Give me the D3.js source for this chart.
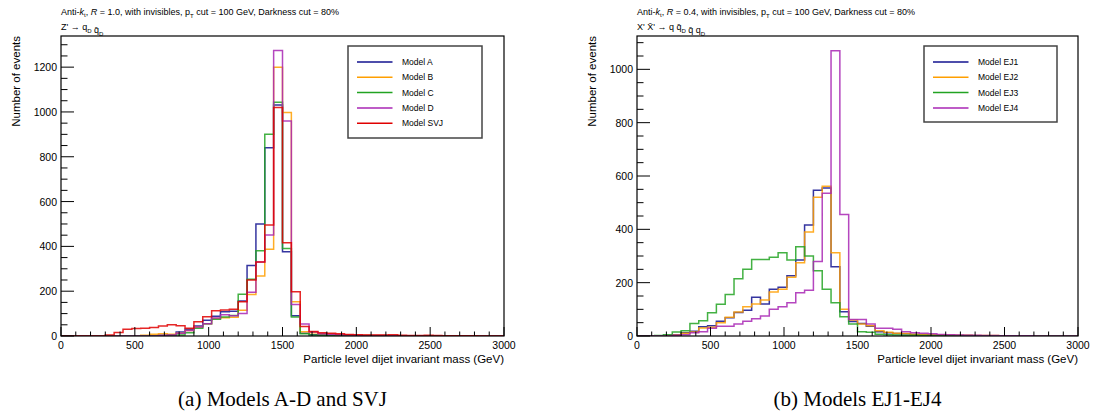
<!DOCTYPE html>
<meta charset="utf-8">
<style>
body { margin: 0; background: #fff; }
text { font-family: "Liberation Sans", Arial, sans-serif; fill: #000; }
.caption { font-family: "Liberation Serif", "DejaVu Serif", serif; }
</style>
<svg width="1094" height="414"></svg>
<script src="https://d3js.org/d3.v7.min.js"></script>
<script>

// histogram binning (GeV)
var massMin = 0, massMax = 3000, binWidth = 60;
var xTicks = [0, 500, 1000, 1500, 2000, 2500, 3000];
var yTicksA = [0, 200, 400, 600, 800, 1000, 1200];
var yTicksB = [0, 200, 400, 600, 800, 1000];

// panel (a): counts per 60 GeV bin
var modelsA = ["Model A", "Model B", "Model C", "Model D", "Model SVJ"];
var colorsA = ["#12128f", "#ff9f00", "#22a322", "#a826b4", "#e00000"];
var countsModelA = [0,0,0,0,0,0,0,0,0,0, 0,3,5,18,30,45,70,88,108,111, 156,315,500,840,1031,376,90,12,6,4, 3,2,2,1,1,1,1,0,1,0, 0,0,0,0,0,0,0,0,0,0];
var countsModelB = [0,0,0,0,0,0,0,0,0,3, 8,10,8,12,25,40,55,78,82,84, 115,185,268,387,1200,997,153,19,15,10, 8,6,4,3,3,2,2,1,1,1, 1,0,0,0,0,0,0,0,0,0];
var countsModelC = [0,0,0,0,0,0,0,0,0,0, 0,0,2,5,15,35,55,75,85,92, 186,253,380,900,1043,391,85,10,5,3, 2,2,1,1,1,0,0,0,0,0, 0,0,0,0,0,0,0,0,0,0];
var countsModelD = [0,0,0,0,0,0,0,0,0,0, 0,2,5,12,25,40,55,80,95,90, 100,195,330,451,1274,960,141,54,18,10, 8,6,4,3,2,2,2,1,1,1, 1,0,0,0,0,0,0,0,0,0];
var countsModelSVJ = [0,0,0,0,0,5,16,30,33,35, 38,45,50,46,35,64,86,113,116,119, 153,250,330,495,1020,416,198,42,20,15, 12,10,7,6,5,5,4,6,3,2, 2,3,2,1,1,1,1,0,0,0];

// panel (b)
var modelsB = ["Model EJ1", "Model EJ2", "Model EJ3", "Model EJ4"];
var colorsB = ["#12128f", "#ff9f00", "#22a322", "#a826b4"];
var countsEJ1 = [0,0,0,2,5,12,18,35,38,55, 68,88,97,145,120,175,183,226,285,416, 547,555,260,91,54,47,37,16,12,9, 8,6,5,4,3,2,2,2,1,1, 1,1,1,0,0,0,0,0,0,0];
var countsEJ2 = [0,0,0,1,4,10,15,30,33,50, 70,90,110,120,135,165,175,220,275,390, 520,562,312,100,60,45,38,20,14,10, 9,7,6,5,5,4,3,3,2,2, 2,1,1,1,1,0,0,0,0,0];
var countsEJ3 = [0,0,2,5,15,20,47,57,87,119, 156,215,250,287,287,295,312,285,335,300, 245,175,125,72,45,16,14,7,5,4, 3,3,2,2,1,1,1,1,0,0, 0,0,0,0,0,0,0,0,0,0];
var countsEJ4 = [0,0,0,0,3,5,12,16,29,37, 37,45,55,65,75,100,110,125,162,172, 279,535,1070,456,62,62,45,29,29,25, 16,12,10,8,6,5,4,3,3,2, 2,1,1,1,1,0,0,0,0,0];

var svg = d3.select("svg");

function drawPanel(p) {
  var g = svg.append("g");
  var x = d3.scaleLinear().domain([massMin, massMax]).range([p.left, p.right]);
  var y = d3.scaleLinear().domain([0, p.yMax]).range([p.bottom, p.top]);

  var clipId = "clip" + p.id;
  g.append("clipPath").attr("id", clipId)
    .append("rect")
      .attr("x", p.left).attr("y", p.top)
      .attr("width", p.right - p.left).attr("height", p.bottom - p.top);

  // step outlines, ROOT "HIST" style
  var hist = g.append("g").attr("clip-path", "url(#" + clipId + ")");
  p.series.forEach(function(counts, k) {
    var pts = [[x(massMin), y(0)]];
    counts.forEach(function(v, i) {
      var lo = massMin + i * binWidth;
      pts.push([x(lo), y(v)], [x(lo + binWidth), y(v)]);
    });
    pts.push([x(massMax), y(0)]);
    hist.append("path")
      .attr("d", d3.line()(pts))
      .attr("fill", "none")
      .attr("stroke", p.colors[k])
      .attr("stroke-width", 1.5)
      .attr("stroke-opacity", 0.85);
  });

  // frame
  g.append("rect")
    .attr("x", p.left).attr("y", p.top)
    .attr("width", p.right - p.left).attr("height", p.bottom - p.top)
    .attr("fill", "none").attr("stroke", "#000").attr("stroke-width", 1.2);

  // x ticks point inwards
  var xMinor = d3.range(massMin, massMax + 1, 100);
  g.append("g").selectAll("line").data(xMinor).enter().append("line")
    .attr("x1", x).attr("x2", x)
    .attr("y1", p.bottom)
    .attr("y2", function(d) { return p.bottom - (d % 500 === 0 ? 9 : 4.5); })
    .attr("stroke", "#000").attr("stroke-width", 1);
  g.append("g").selectAll("text").data(xTicks).enter().append("text")
    .attr("x", x).attr("y", p.bottom + 13)
    .attr("text-anchor", "middle").attr("font-size", 10.5)
    .text(function(d) { return d; });

  var yMinor = d3.range(0, p.yMax, 50);
  g.append("g").selectAll("line").data(yMinor).enter().append("line")
    .attr("y1", y).attr("y2", y)
    .attr("x1", p.left)
    .attr("x2", function(d) { return p.left + (d % 200 === 0 ? 13 : 6.5); })
    .attr("stroke", "#000").attr("stroke-width", 1);
  g.append("g").selectAll("text").data(p.yTicks).enter().append("text")
    .attr("x", p.left - 4).attr("y", function(d) { return y(d) + 4; })
    .attr("text-anchor", "end").attr("font-size", 10.5)
    .text(function(d) { return d; });

  // axis titles
  g.append("text")
    .attr("x", p.right).attr("y", p.bottom + 27)
    .attr("text-anchor", "end").attr("font-size", 11.5)
    .text("Particle level dijet invariant mass (GeV)");
  g.append("text")
    .attr("transform", "translate(" + (p.left - 41) + "," + p.top + ") rotate(-90)")
    .attr("text-anchor", "end").attr("font-size", 11.5)
    .text("Number of events");

  // header lines
  var h1 = g.append("text").attr("x", p.left).attr("y", 15).attr("font-size", 9);
  h1.append("tspan").text("Anti-");
  h1.append("tspan").attr("font-style", "italic").text("k");
  h1.append("tspan").attr("font-size", 6).attr("dy", 2).text("t");
  h1.append("tspan").attr("dy", -2).text(", ");
  h1.append("tspan").attr("font-style", "italic").text("R");
  h1.append("tspan").text(" = " + p.radius + ", with invisibles, p");
  h1.append("tspan").attr("font-size", 6).attr("dy", 3).text("T");
  h1.append("tspan").attr("dy", -3).text(" cut = 100 GeV, Darkness cut = 80%");

  var h2 = g.append("text").attr("x", p.left).attr("y", 30).attr("font-size", 9);
  p.process.forEach(function(part) {
    h2.append("tspan").text(part[0]);
    if (part[1]) {
      h2.append("tspan").attr("font-size", 6).attr("dy", 3).text(part[1]);
      h2.append("tspan").attr("dy", -3).text("");
    }
  });

  // legend
  var lg = g.append("g");
  lg.append("rect")
    .attr("x", p.legend.x).attr("y", p.legend.y)
    .attr("width", p.legend.w).attr("height", p.legend.h)
    .attr("fill", "#fff").attr("stroke", "#444").attr("stroke-width", 1.5);
  var rows = lg.selectAll("g.row").data(p.names).enter().append("g")
    .attr("transform", function(d, i) {
      return "translate(" + p.legend.x + "," + (p.legend.y + 16 + i * 15.3) + ")";
    });
  rows.append("line")
    .attr("x1", p.legend.lx).attr("x2", p.legend.lx + 35.5)
    .attr("stroke", function(d, i) { return p.colors[i]; })
    .attr("stroke-width", 1.5);
  rows.append("text")
    .attr("x", p.legend.tx).attr("y", 3)
    .attr("font-size", 8.5)
    .text(function(d) { return d; });

  // caption
  g.append("text").attr("class", "caption")
    .attr("x", (p.left + p.right) / 2).attr("y", 406)
    .attr("text-anchor", "middle").attr("font-size", 21)
    .text(p.caption);
}

drawPanel({
  id: "a", left: 61, right: 504, top: 36, bottom: 336, yMax: 1339,
  yTicks: yTicksA, radius: "1.0",
  process: [["Z' \u2192 q", "D"], [" q\u0304", "D"]],
  series: [countsModelA, countsModelB, countsModelC, countsModelD, countsModelSVJ],
  names: modelsA, colors: colorsA,
  legend: {x: 348, y: 46, w: 134, h: 92, lx: 9, tx: 54},
  caption: "(a) Models A-D and SVJ"
});

drawPanel({
  id: "b", left: 637, right: 1078, top: 36, bottom: 336, yMax: 1125,
  yTicks: yTicksB, radius: "0.4",
  process: [["X' X\u0304' \u2192 q q\u0304", "D"], [" q\u0304 q", "D"]],
  series: [countsEJ1, countsEJ2, countsEJ3, countsEJ4],
  names: modelsB, colors: colorsB,
  legend: {x: 924, y: 46, w: 133, h: 76, lx: 9, tx: 54},
  caption: "(b) Models EJ1-EJ4"
});

</script>
